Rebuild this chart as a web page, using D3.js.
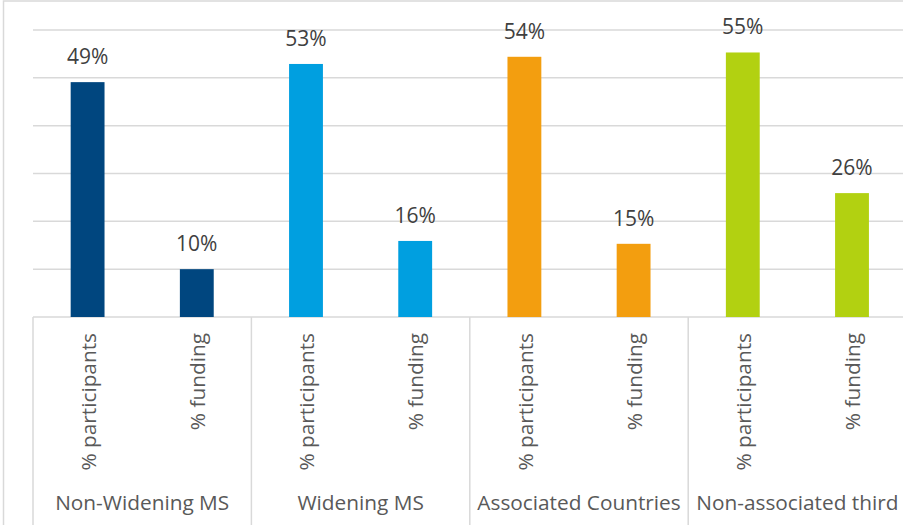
<!DOCTYPE html>
<html>
<head>
<meta charset="utf-8">
<script src="https://cdn.jsdelivr.net/npm/d3@7"></script>
<style>
  body { margin: 0; background: #fff; }
  text { font-family: "Open Sans", sans-serif; }
</style>
</head>
<body>
<script>
// groups and sub categories
const groups = ['Non-Widening MS', 'Widening MS', 'Associated Countries', 'Non-associated third'];
const subs = ['% participants', '% funding'];
// values in percent
const participants = [49.1, 52.9, 54.4, 55.3];
const funding = [10.0, 15.9, 15.3, 25.9];
const labels = ['49%', '10%', '53%', '16%', '54%', '15%', '55%', '26%'];
const colors = ['#00467f', '#009fe0', '#f39e0f', '#b2d111'];
const yTicks = [0, 10, 20, 30, 40, 50, 60];

const W = 903, H = 525;
const svg = d3.select('body').append('svg')
    .attr('width', W)
    .attr('height', H);

// outer chart frame
svg.append('rect')
    .attr('x', 3.5).attr('y', 1)
    .attr('width', W + 10).attr('height', H + 10)
    .attr('fill', 'none')
    .attr('stroke', '#d9d9d9')
    .attr('stroke-width', 1.5);

const rows = [];
groups.forEach((g, i) => {
    rows.push({ key: g + '|p', group: g, sub: subs[0], value: participants[i], color: colors[i] });
    rows.push({ key: g + '|f', group: g, sub: subs[1], value: funding[i], color: colors[i] });
});
rows.forEach((d, i) => d.label = labels[i]);

const plotLeft = 33, plotRight = 906.6, plotBase = 317, plotTop = 30;

const x = d3.scaleBand()
    .domain(rows.map(d => d.key))
    .range([plotLeft, plotRight])
    .paddingInner(0.69)
    .paddingOuter(0.345);

const xg = d3.scaleBand()
    .domain(groups)
    .range([plotLeft, plotRight]);

const y = d3.scaleLinear()
    .domain([0, 60])
    .range([plotBase, plotTop]);

// gridlines
svg.append('g')
    .selectAll('line')
    .data(yTicks)
    .join('line')
    .attr('x1', plotLeft).attr('x2', W)
    .attr('y1', d => y(d)).attr('y2', d => y(d))
    .attr('stroke', '#d9d9d9')
    .attr('stroke-width', 1.5);

// bars
svg.append('g')
    .selectAll('rect')
    .data(rows)
    .join('rect')
    .attr('x', d => x(d.key))
    .attr('width', x.bandwidth())
    .attr('y', d => y(d.value))
    .attr('height', d => y(0) - y(d.value))
    .attr('fill', d => d.color);

// data labels
svg.append('g')
    .selectAll('text')
    .data(rows)
    .join('text')
    .attr('x', d => x(d.key) + x.bandwidth() / 2)
    .attr('y', d => y(d.value) - 18)
    .attr('text-anchor', 'middle')
    .attr('font-size', 21)
    .attr('fill', '#404040')
    .text(d => d.label);

// group dividers below the axis
svg.append('g')
    .selectAll('line')
    .data(groups)
    .join('line')
    .attr('x1', d => xg(d)).attr('x2', d => xg(d))
    .attr('y1', plotBase).attr('y2', H)
    .attr('stroke', '#d9d9d9')
    .attr('stroke-width', 1.5);

// rotated sub category labels
svg.append('g')
    .selectAll('text')
    .data(rows)
    .join('text')
    .attr('transform', d => `translate(${x(d.key) + x.bandwidth() / 2 + 1},333) rotate(-90)`)
    .attr('text-anchor', 'end')
    .attr('dy', '0.35em')
    .attr('font-size', 20.8)
    .attr('fill', '#595959')
    .text(d => d.sub);

// group labels
svg.append('g')
    .selectAll('text')
    .data(groups)
    .join('text')
    .attr('x', d => xg(d) + xg.bandwidth() / 2)
    .attr('y', 510)
    .attr('text-anchor', 'middle')
    .attr('font-size', 20.8)
    .attr('fill', '#595959')
    .text(d => d);
</script>
</body>
</html>
